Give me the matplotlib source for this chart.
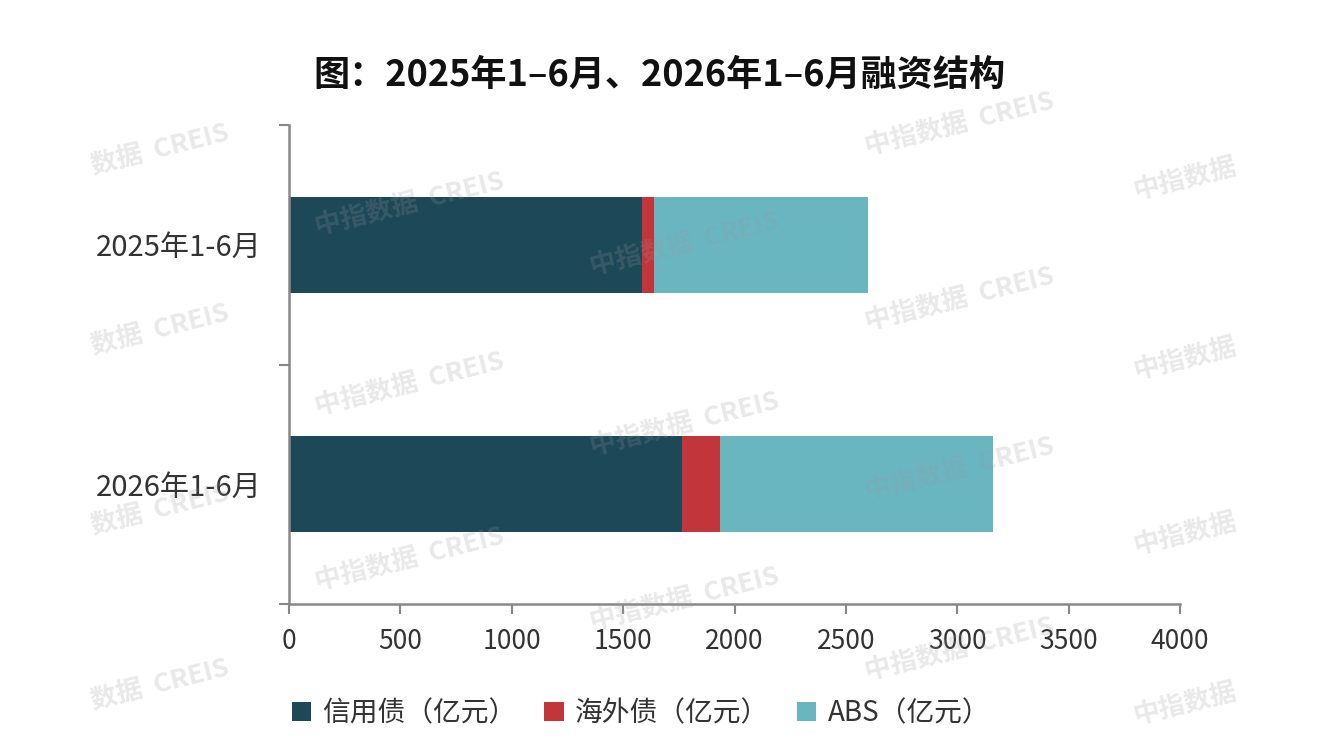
import matplotlib
matplotlib.use("Agg")
import matplotlib.pyplot as plt
import numpy as np

plt.rcParams["font.family"] = ["Noto Sans CJK SC", "DejaVu Sans"]

periods = ["2025年1-6月", "2026年1-6月"]
credit = [1585, 1764]
overseas = [54, 171]
abs_bond = [960, 1225]
series_names = ["信用债（亿元）", "海外债（亿元）", "ABS（亿元）"]
colors = ["#1d4858", "#c1353b", "#69b6c1"]
x_ticks = [0, 500, 1000, 1500, 2000, 2500, 3000, 3500, 4000]

W, H = 1319, 742
fig = plt.figure(figsize=(W / 100, H / 100), dpi=100)
ax = fig.add_axes([289 / W, 1 - 604 / H, (1180 - 289) / W, (604 - 125) / H])

y = np.arange(len(periods))
left = np.zeros(len(periods))
for vals, name, c in zip([credit, overseas, abs_bond], series_names, colors):
    ax.barh(y, vals, left=left, height=0.4, color=c, label=name, zorder=2)
    left = left + np.array(vals)

ax.set_ylim(1.5, -0.5)
ax.set_xlim(0, 4000)
ax.set_xticks(x_ticks)
ax.set_xticklabels([str(t) for t in x_ticks], fontsize=19, color="#333333")
ax.set_yticks(y)
ax.set_yticklabels(periods, fontsize=21, color="#333333")
ax.set_yticks([-0.5, 0.5, 1.5], minor=True)
ax.tick_params(axis="y", which="major", length=0, pad=20)
ax.tick_params(axis="y", which="minor", length=7, width=1.5, color="#888888")
ax.tick_params(axis="x", length=7, width=1.5, color="#888888", pad=10)
for s in ["top", "right"]:
    ax.spines[s].set_visible(False)
for s in ["left", "bottom"]:
    ax.spines[s].set_color("#888888")
    ax.spines[s].set_linewidth(1.8)

fig.text(659 / W, 1 - 75 / H, "图：2025年1–6月、2026年1–6月融资结构", ha="center", va="center",
         fontsize=26, fontweight="bold", color="#111111")

fig.legend(loc="center", bbox_to_anchor=(641 / W, 1 - 713 / H), ncol=3, frameon=False,
           fontsize=20, handlelength=0.7, handleheight=0.7, handletextpad=0.4,
           columnspacing=1.0, labelcolor="#333333")

# watermarks (edge ones are partial, as in the source screenshot)
marks = [(160, 150, "数据  CREIS"), (160, 330, "数据  CREIS"), (160, 510, "数据  CREIS"),
         (160, 685, "数据  CREIS"),
         (410, 205, "中指数据  CREIS"), (410, 385, "中指数据  CREIS"), (410, 560, "中指数据  CREIS"),
         (685, 245, "中指数据  CREIS"), (685, 425, "中指数据  CREIS"), (685, 600, "中指数据  CREIS"),
         (960, 125, "中指数据  CREIS"), (960, 300, "中指数据  CREIS"), (960, 470, "中指数据  CREIS"),
         (960, 650, "中指数据  CREIS"),
         (1185, 180, "中指数据"), (1185, 360, "中指数据"), (1185, 535, "中指数据"),
         (1185, 705, "中指数据")]
for mx, my, txt in marks:
    fig.text(mx / W, 1 - my / H, txt, ha="center", va="center",
             rotation=14, fontsize=19, fontweight="bold", color="#999999",
             alpha=0.22, zorder=10)

fig.savefig("out.png", dpi=100)
